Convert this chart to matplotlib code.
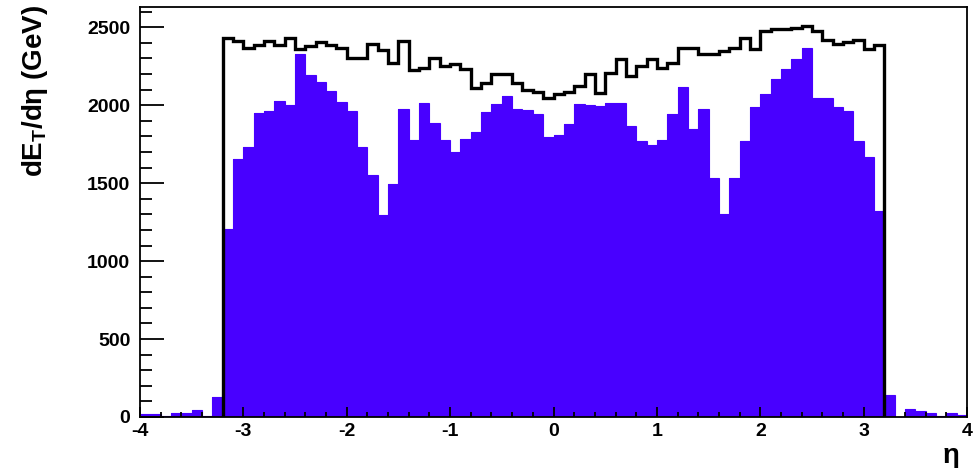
import numpy as np
import matplotlib
matplotlib.use("Agg")
import matplotlib.pyplot as plt
from matplotlib.ticker import MultipleLocator

plt.rcParams['font.family'] = ['Liberation Sans', 'DejaVu Sans']
plt.rcParams['mathtext.fontset'] = 'custom'
plt.rcParams['mathtext.rm'] = 'Liberation Sans:bold'
plt.rcParams['mathtext.bf'] = 'Liberation Sans:bold'
plt.rcParams['mathtext.it'] = 'Liberation Sans:bold'
plt.rcParams['axes.unicode_minus'] = False

# eta binning, 0.1 wide
eta_lo, eta_hi, n_bins = -4.0, 4.0, 80
eta_in_lo, eta_in_hi, n_in = -3.2, 3.2, 64

# filled histogram, all 80 bins from -4 to 4
et_filled = [18, 18, 5, 28, 28, 45, 6, 130,
             1208, 1658, 1733, 1947, 1962, 2026, 2001, 2326,
             2194, 2151, 2091, 2022, 1962, 1733, 1551, 1294,
             1496, 1977, 1774, 2012, 1887, 1774, 1699, 1785,
             1830, 1958, 2010, 2059, 1973, 1967, 1941, 1795,
             1812, 1877, 2005, 2001, 1994, 2016, 2016, 1866,
             1769, 1748, 1774, 1945, 2117, 1849, 1973, 1534,
             1303, 1534, 1769, 1988, 2074, 2166, 2230, 2294,
             2365, 2044, 2044, 1988, 1962, 1769, 1667, 1324,
             142, 3, 50, 38, 24, 5, 24, 10]

# outline histogram, 64 bins from -3.2 to 3.2
et_outline = [2429, 2412, 2369, 2387, 2412, 2387, 2433, 2358,
              2380, 2408, 2387, 2365, 2305, 2305, 2395, 2352,
              2273, 2412, 2224, 2236, 2305, 2251, 2262, 2230,
              2112, 2144, 2198, 2198, 2144, 2095, 2087, 2048,
              2069, 2087, 2123, 2202, 2080, 2209, 2294, 2187,
              2251, 2294, 2241, 2273, 2369, 2365, 2331, 2331,
              2348, 2365, 2433, 2358, 2476, 2487, 2487, 2494,
              2508, 2476, 2416, 2395, 2408, 2416, 2358, 2387]

edges = np.linspace(eta_lo, eta_hi, n_bins + 1)
edges_in = np.linspace(eta_in_lo, eta_in_hi, n_in + 1)

fig = plt.figure(figsize=(9.75, 4.68), dpi=100)
ax = fig.add_axes([0.1436, 0.109, 0.8482, 0.876])

blue = '#4800ff'
ax.stairs(et_filled, edges, fill=True, color=blue, lw=0)
ax.stairs(et_filled, edges, color=blue, lw=0.8)
ax.stairs(et_outline, edges_in, color='black', lw=2.4, baseline=0)

ax.set_xlim(eta_lo, eta_hi)
ax.set_ylim(0, 2630)

ax.xaxis.set_major_locator(MultipleLocator(1))
ax.xaxis.set_minor_locator(MultipleLocator(0.2))
ax.yaxis.set_major_locator(MultipleLocator(500))
ax.yaxis.set_minor_locator(MultipleLocator(100))

ax.tick_params(axis='x', which='major', direction='in', length=7.5, width=1.3,
               pad=4, labelsize=14)
ax.tick_params(axis='x', which='minor', direction='in', length=3.8, width=1.3)
ax.tick_params(axis='y', which='major', direction='in', length=17, width=1.3,
               pad=7, labelsize=14)
ax.tick_params(axis='y', which='minor', direction='in', length=8.5, width=1.3)
for lab in ax.get_xticklabels() + ax.get_yticklabels():
    lab.set_fontweight('bold')

for s in ax.spines.values():
    s.set_linewidth(1.3)

fig.text(0.036, 0.99, r'dE$_{\rm T}$/dη (GeV)', rotation=90, ha='center',
         va='top', fontsize=20, fontweight='bold')
fig.text(0.975, 0.025, 'η', ha='center', va='center', fontsize=20,
         fontweight='bold')

fig.savefig('out.png', dpi=100)
